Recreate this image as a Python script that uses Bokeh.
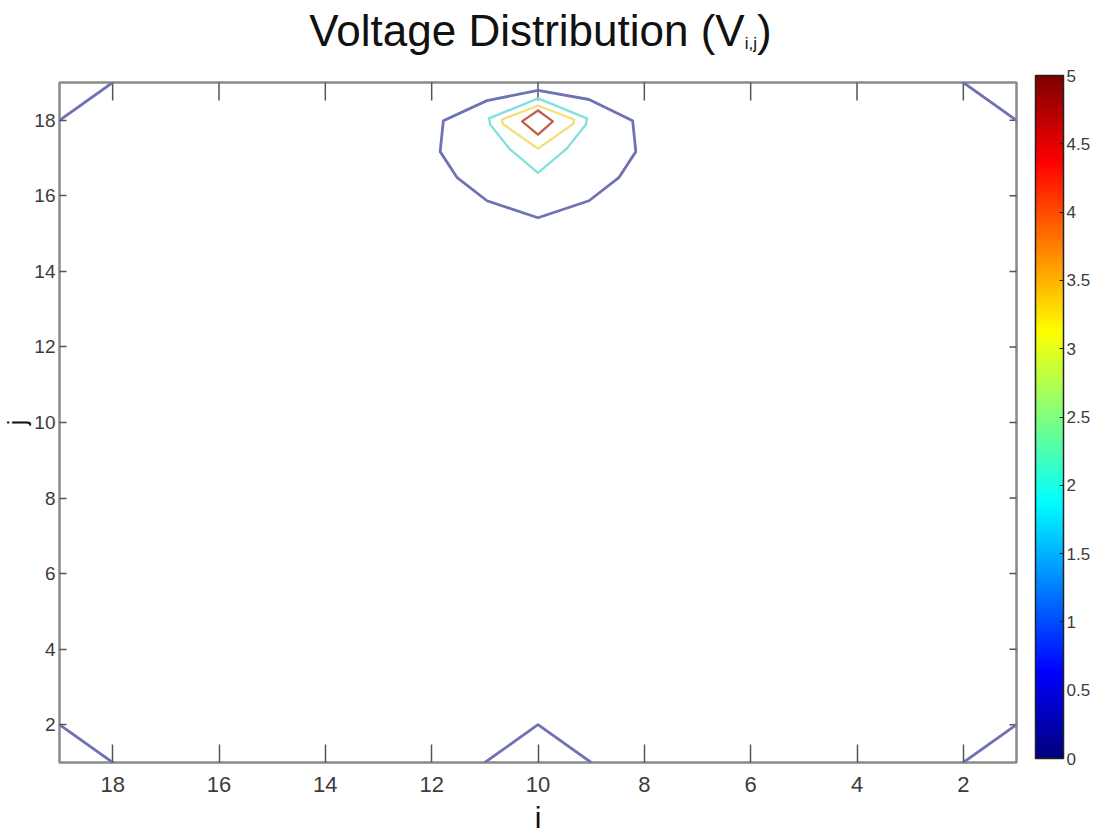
import numpy as np
from bokeh.plotting import figure
from bokeh.layouts import column
from bokeh.models import (Range1d, FixedTicker, ColorBar, LinearColorMapper,
                          ColumnDataSource, Div)
from bokeh.embed import file_html
from bokeh.resources import INLINE

# ---------------- data ----------------
i_min, i_max = 1, 19
j_min, j_max = 1, 19
x_ticks = [2, 4, 6, 8, 10, 12, 14, 16, 18]
y_ticks = [2, 4, 6, 8, 10, 12, 14, 16, 18]
cbar_ticks = [0, 0.5, 1, 1.5, 2, 2.5, 3, 3.5, 4, 4.5, 5]
v_low, v_high = 0, 5

# contour polylines (i, j) and their levels
contour_levels = [0.5, 0.5, 0.5, 0.5, 0.5, 0.5, 2.0, 3.0, 4.5]
contour_i = [
    [10.0, 10.96, 11.78, 11.84, 11.52, 10.96, 10.0, 9.04, 8.48, 8.16, 8.22, 9.04, 10.0],
    [19, 18],
    [2, 1],
    [19, 18],
    [2, 1],
    [11, 10, 9],
    [10.0, 10.92, 10.90, 10.54, 10.0, 9.46, 9.10, 9.08, 10.0],
    [10.0, 10.68, 10.66, 10.0, 9.34, 9.32, 10.0],
    [10.0, 10.30, 10.0, 9.72, 10.0],
]
contour_j = [
    [18.79, 18.52, 17.99, 17.17, 16.48, 15.87, 15.42, 15.87, 16.48, 17.17, 17.99, 18.55, 18.79],
    [18, 19],
    [19, 18],
    [2, 1],
    [1, 2],
    [1, 2, 1],
    [18.58, 18.05, 17.89, 17.25, 16.61, 17.25, 17.89, 18.05, 18.58],
    [18.39, 18.02, 17.90, 17.25, 17.90, 18.02, 18.39],
    [18.26, 17.97, 17.62, 17.97, 18.26],
]

# ---------------- styles ----------------
level_colors = {0.5: "#6f73b3", 2.0: "#7fe0dc", 3.0: "#f0e07a", 4.5: "#c0604c"}
level_widths = {0.5: 2.8, 2.0: 2.3, 3.0: 2.3, 4.5: 2.3}

def jet_palette(n=256):
    t = np.linspace(0, 1, n)
    r = np.clip(1.5 - np.abs(4 * t - 3), 0, 1)
    g = np.clip(1.5 - np.abs(4 * t - 2), 0, 1)
    b = np.clip(1.5 - np.abs(4 * t - 1), 0, 1)
    return ["#%02x%02x%02x" % (int(rr * 255), int(gg * 255), int(bb * 255))
            for rr, gg, bb in zip(r, g, b)]

SANS = "Liberation Sans, Arial, sans-serif"
AX_GRAY = "#8a8a8a"
TICK = "#555555"
LBL = "#3c3c3c"

TITLE_H = 60
title = Div(
    text=('<div style="width:1081px;text-align:center;font-family:\'Liberation Sans\',Arial,sans-serif;'
          'font-size:44px;line-height:49px;padding-top:6px;color:#111111;white-space:nowrap;">'
          'Voltage Distribution (V<sub style="font-size:17px;line-height:0;color:#111111;'
          'vertical-align:-3px;">i,j</sub>)</div>'),
    width=1093, height=TITLE_H, margin=(0, 0, 0, 0))

p = figure(width=1093, height=836 - TITLE_H, output_backend="svg", toolbar_location=None,
           x_range=Range1d(i_max, i_min), y_range=Range1d(j_min, j_max),
           min_border_left=59, min_border_right=76, min_border_top=82 - TITLE_H,
           min_border_bottom=74, margin=(0, 0, 0, 0))
p.background_fill_color = "white"
p.border_fill_color = "white"
p.outline_line_color = AX_GRAY
p.outline_line_width = 2.5
p.xgrid.visible = False
p.ygrid.visible = False

# bottom / left axes (ticks inside)
for ax, ticks, tin in ((p.xaxis[0], x_ticks, 18), (p.yaxis[0], y_ticks, 7)):
    ax.ticker = FixedTicker(ticks=ticks)
    ax.axis_line_color = None
    ax.major_tick_in = tin
    ax.major_tick_out = 0
    ax.major_tick_line_color = TICK
    ax.major_tick_line_width = 1.5
    ax.minor_tick_line_color = None
    ax.major_label_text_font = SANS
    ax.major_label_text_color = LBL
    ax.axis_label_text_font = SANS
    ax.axis_label_text_font_style = "normal"
    ax.axis_label_text_color = "#111111"

p.xaxis.axis_label = "i"
p.xaxis.major_label_text_font_size = "22px"
p.xaxis.major_label_standoff = 14
p.xaxis.axis_label_text_font_size = "30px"
p.xaxis.axis_label_standoff = 6
p.yaxis.axis_label = "j"
p.yaxis.major_label_text_font_size = "19px"
p.yaxis.major_label_standoff = 4
p.yaxis.axis_label_text_font_size = "25px"
p.yaxis.axis_label_standoff = 0

# mirrored inside ticks on the top and right edges
p.scatter(x=x_ticks, y=[j_max] * len(x_ticks), marker="dash", size=36,
          angle=np.pi / 2, line_color=TICK, line_width=1.5)
p.scatter(x=[i_min] * len(y_ticks), y=y_ticks, marker="dash", size=14,
          angle=0, line_color=TICK, line_width=1.5)

# contour lines
src = ColumnDataSource(dict(
    xs=contour_i, ys=contour_j,
    color=[level_colors[l] for l in contour_levels],
    width=[level_widths[l] for l in contour_levels],
))
p.multi_line("xs", "ys", source=src, line_color="color", line_width="width",
             line_join="round", line_cap="round")

# colour bar
mapper = LinearColorMapper(palette=jet_palette(), low=v_low, high=v_high)
cb = ColorBar(color_mapper=mapper, ticker=FixedTicker(ticks=cbar_ticks),
              width=28, height=683, padding=0, margin=0, location=(19, 4),
              label_standoff=3, bar_line_color="#222222", bar_line_width=1.5,
              major_tick_line_color="#222222", major_tick_in=4,
              major_label_text_font=SANS, major_label_text_font_size="17px",
              major_label_text_color=LBL, border_line_color=None,
              background_fill_color=None)
p.add_layout(cb, "right")

layout = column(title, p, spacing=0, margin=(0, 0, 0, 0))
open("out.html", "w").write(file_html(layout, INLINE))
